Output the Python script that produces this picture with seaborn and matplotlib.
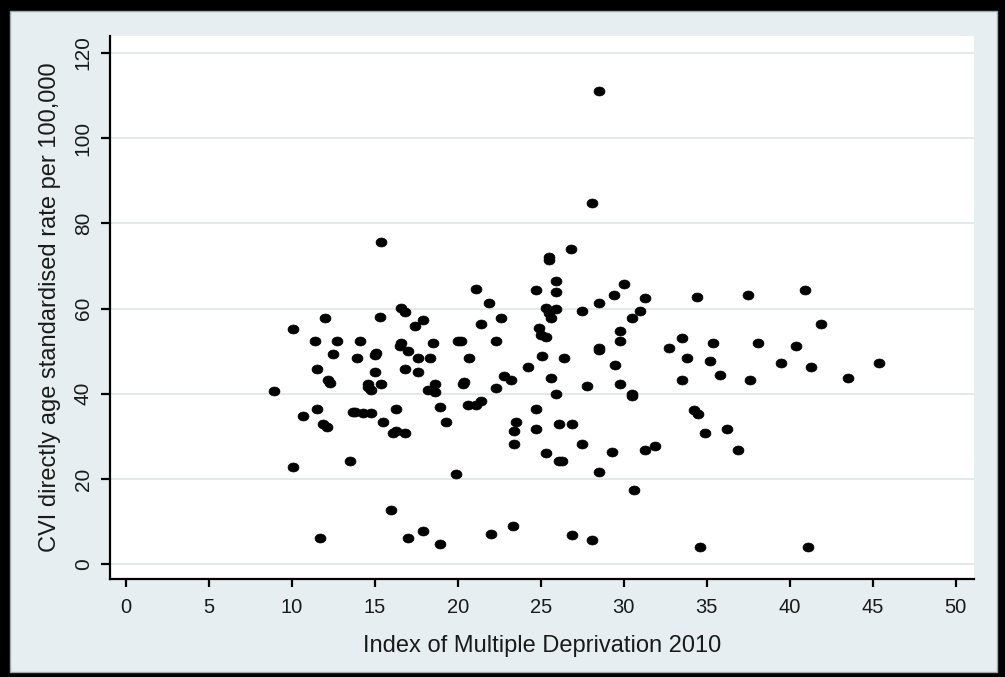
## CVI RATE VS DEPRIVATION -- SCATTER ##

import numpy as np
import pandas as pd
import matplotlib
matplotlib.use("Agg")
import matplotlib.pyplot as plt
from matplotlib.patches import Rectangle
from matplotlib.path import Path
from matplotlib.markers import MarkerStyle
import seaborn as sns

# values (one entry per local authority)
imd = [8.9, 10.1, 10.1, 10.7, 11.4, 11.5, 11.5, 11.7, 11.9, 12.0,
       12.1, 12.2, 12.3, 12.5, 12.7, 13.5, 13.7, 13.8, 13.9, 14.1,
       14.3, 14.6, 14.6, 14.8, 14.8, 15.0, 15.0, 15.1, 15.3, 15.4,
       15.4, 15.5, 16.0, 16.1, 16.3, 16.3, 16.6, 16.5, 16.6, 16.8,
       16.8, 16.8, 17.0, 17.0, 17.4, 17.6, 17.6, 17.9, 17.9, 18.2,
       18.3, 18.5, 18.6, 18.6, 18.9, 18.9, 19.3, 19.9, 20.0, 20.2,
       20.3, 20.4, 20.6, 20.7, 21.1, 21.1, 21.4, 21.4, 21.9, 22.0,
       22.3, 22.3, 22.6, 22.8, 23.2, 23.3, 23.4, 23.4, 23.5, 24.2,
       24.7, 24.7, 24.7, 24.9, 25.0, 25.1, 25.3, 25.3, 25.3, 25.5,
       25.5, 25.5, 25.6, 25.6, 25.9, 25.9, 25.9, 25.9, 26.1, 26.1,
       26.3, 26.4, 26.8, 26.9, 26.9, 27.5, 27.5, 27.8, 28.1, 28.1,
       28.5, 28.5, 28.5, 28.5, 28.5, 29.3, 29.4, 29.5, 29.8, 29.8,
       29.8, 30.0, 30.5, 30.5, 30.5, 30.6, 31.0, 31.3, 31.3, 31.9,
       32.7, 33.5, 33.5, 33.8, 34.2, 34.4, 34.5, 34.6, 34.9, 35.2,
       35.4, 35.8, 36.2, 36.9, 37.5, 37.6, 38.1, 39.5, 40.4, 40.9,
       41.1, 41.3, 41.9, 43.5, 45.4]

cvi_rate = [40.6, 55.3, 22.7, 34.8, 52.3, 45.7, 36.3, 6.2, 32.8, 57.9,
            32.1, 43.2, 42.5, 49.3, 52.3, 24.1, 35.6, 35.6, 48.3, 52.3,
            35.4, 42.2, 41.5, 35.4, 40.8, 45.2, 49.0, 49.5, 58.1, 75.7,
            42.2, 33.3, 12.7, 30.8, 36.3, 31.3, 52.0, 51.3, 60.1, 59.1,
            45.7, 30.8, 50.0, 6.1, 55.9, 48.3, 45.0, 57.4, 7.7, 40.8,
            48.3, 51.8, 40.4, 42.2, 36.8, 4.7, 33.3, 21.1, 52.3, 52.3,
            42.2, 42.8, 37.4, 48.3, 37.4, 64.7, 38.3, 56.4, 61.4, 7.1,
            52.3, 41.4, 57.9, 44.2, 43.2, 8.9, 31.3, 28.2, 33.4, 46.2,
            64.3, 36.3, 31.8, 55.5, 53.8, 48.8, 53.3, 60.1, 26.0, 72.0,
            71.4, 58.9, 57.9, 43.7, 66.4, 63.9, 59.9, 39.9, 32.8, 24.1,
            24.1, 48.3, 73.9, 32.8, 6.9, 59.4, 28.2, 41.7, 84.9, 5.7,
            111.0, 61.4, 50.8, 50.3, 21.7, 26.2, 63.1, 46.7, 54.8, 52.3,
            42.2, 65.8, 39.9, 39.4, 57.9, 17.3, 59.4, 62.4, 26.7, 27.7,
            50.8, 53.0, 43.2, 48.3, 36.1, 62.8, 35.3, 4.1, 30.8, 47.8,
            51.8, 44.5, 31.8, 26.7, 63.3, 43.2, 51.8, 47.3, 51.3, 64.3,
            4.1, 46.2, 56.4, 43.8, 47.3]

x_ticks = [0, 5, 10, 15, 20, 25, 30, 35, 40, 45, 50]
y_ticks = [0, 20, 40, 60, 80, 100, 120]

df = pd.DataFrame({"imd": imd, "cvi": cvi_rate})

sns.set_theme(style="white")
plt.rcParams["font.family"] = ["Liberation Sans", "DejaVu Sans"]

fig = plt.figure(figsize=(10.05, 6.77), dpi=100)
fig.patch.set_facecolor("black")  # black frame round the picture
fig.add_artist(Rectangle((10 / 1005, 5 / 677), 987 / 1005, 661 / 677,
                         transform=fig.transFigure, facecolor="#e7eef1",
                         edgecolor="#a0a6aa", lw=1, zorder=-10))

ax = fig.add_axes([0.1095, 0.1448, 0.8597, 0.802])
ax.set_facecolor("white")

# slightly squashed dot, like the stata markers
t = np.linspace(0, 2 * np.pi, 41)
dot = MarkerStyle(Path(np.c_[np.cos(t), 0.82 * np.sin(t)], closed=True))

sns.scatterplot(data=df, x="imd", y="cvi", ax=ax, marker=dot, s=62,
                color="black", edgecolor="black", linewidth=0.5, zorder=3)

ax.set_xlim(-0.95, 51.1)
ax.set_ylim(-3.5, 124.0)
ax.set_xticks(x_ticks)
ax.set_yticks(y_ticks)

ax.yaxis.grid(True, color="#e3e8eb", lw=1.5)
ax.xaxis.grid(False)

for side in ["top", "right"]:
    ax.spines[side].set_visible(False)
for side in ["left", "bottom"]:
    ax.spines[side].set_color("black")
    ax.spines[side].set_linewidth(1.6)

ax.tick_params(axis="x", direction="out", length=6, width=1.6, color="black",
               labelsize=14.5, labelcolor="#1a1a1a", pad=8, bottom=True)
ax.tick_params(axis="y", direction="out", length=6.5, width=1.6, color="black",
               labelsize=15, labelcolor="#1a1a1a", pad=6, left=True,
               labelrotation=90)
for lab in ax.get_yticklabels():
    lab.set_va("center")

ax.set_xlabel("Index of Multiple Deprivation 2010", fontsize=17,
              color="#1a1a1a", labelpad=13)
ax.set_ylabel("CVI directly age standardised rate per 100,000", fontsize=17,
              color="#1a1a1a", labelpad=9)

fig.savefig("out.png", dpi=100, facecolor=fig.get_facecolor())
